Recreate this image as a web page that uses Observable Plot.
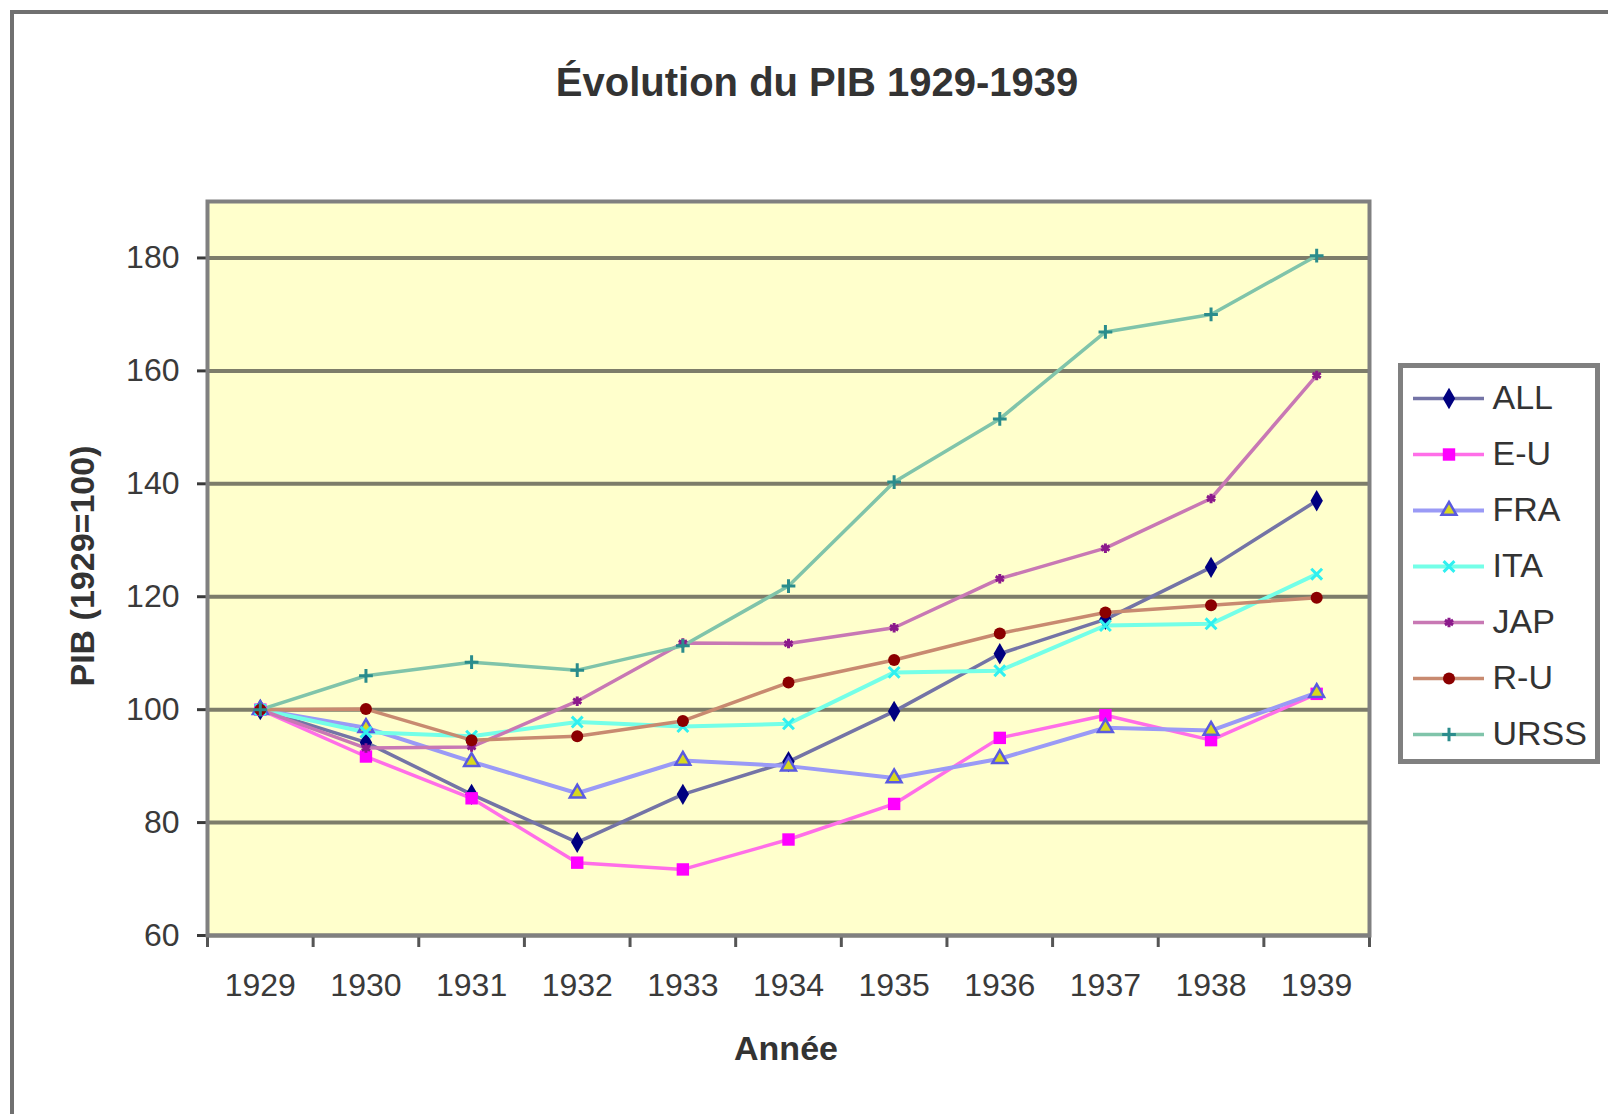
<!DOCTYPE html>
<html><head><meta charset="utf-8">
<script src="https://cdn.jsdelivr.net/npm/d3@7"></script>
<script src="https://cdn.jsdelivr.net/npm/@observablehq/plot@0.6"></script>
<style>
body{margin:0;background:#fff;}
#wrap{position:relative;width:1608px;height:1114px;overflow:hidden;background:#fff;font-family:"Liberation Sans",Arial,sans-serif;color:#333;}
.abs{position:absolute;}
.lbl{position:absolute;line-height:1;white-space:nowrap;transform:translate(-50%,-50%);}
</style></head><body><div id="wrap"></div>
<script>
// ---- data ----
const years = [1929, 1930, 1931, 1932, 1933, 1934, 1935, 1936, 1937, 1938, 1939];
const seriesNames = ["ALL", "E-U", "FRA", "ITA", "JAP", "R-U", "URSS"];
const ALL  = [100, 94.2, 85.0, 76.5, 85.0, 90.8, 99.7, 109.9, 116.0, 125.2, 137.0];
const EU   = [100, 91.7, 84.3, 72.9, 71.7, 77.0, 83.3, 95.0, 99.0, 94.6, 102.8];
const FRA  = [100, 96.8, 90.8, 85.2, 91.0, 90.0, 87.9, 91.3, 96.8, 96.3, 103.0];
const ITA  = [100, 96.0, 95.3, 97.8, 97.0, 97.5, 106.6, 106.9, 114.9, 115.2, 124.0];
const JAP  = [100, 93.2, 93.4, 101.5, 111.8, 111.7, 114.5, 123.2, 128.6, 137.4, 159.2];
const RU   = [100, 100.1, 94.6, 95.3, 98.0, 104.8, 108.8, 113.5, 117.2, 118.5, 119.8];
const URSS = [100, 106.0, 108.4, 107.0, 111.3, 121.9, 140.3, 151.5, 166.9, 170.0, 180.4];
const yTicks = [60, 80, 100, 120, 140, 160, 180];
const titleText = "Évolution du PIB 1929-1939";
const xTitle = "Année";
const yTitle = "PIB (1929=100)";

const valuesBySeries = {"ALL": ALL, "E-U": EU, "FRA": FRA, "ITA": ITA, "JAP": JAP, "R-U": RU, "URSS": URSS};
const styles = {
  "ALL":  {line: "#7474A6", lw: 3.5, symbol: "diamond",  r: 6.5, fill: "#000080", stroke: "none", sw: 0},
  "E-U":  {line: "#FF6EE8", lw: 3.5, symbol: "square",   r: 7, fill: "#FF00FF", stroke: "none", sw: 0},
  "FRA":  {line: "#9A9AF6", lw: 4,   symbol: "triangle", r: 5.5, fill: "#D8D820", stroke: "#5A5AE0", sw: 2.5},
  "ITA":  {line: "#74FFE8", lw: 4,   symbol: "times",    r: 5, fill: "none",    stroke: "#30F0F0", sw: 3},
  "JAP":  {line: "#C878B4", lw: 3.5, symbol: "asterisk", r: 4.5, fill: "none",    stroke: "#8B1A8B", sw: 3},
  "R-U":  {line: "#C88A70", lw: 3.5, symbol: "circle",   r: 6, fill: "#8B0000", stroke: "none", sw: 0},
  "URSS": {line: "#80C4AA", lw: 3.5, symbol: "plus",     r: 4.5, fill: "none",    stroke: "#2A8C8C", sw: 3}
};
const rows = seriesNames.flatMap(s => years.map((yr, i) => ({series: s, year: yr, value: valuesBySeries[s][i]})));
const bounds = [years[0] - 0.5, ...years.map(y => y + 0.5)];

const wrap = document.getElementById("wrap");
const font = "'Liberation Sans', Arial, sans-serif";

// outer chart border (top/left visible)
const outer = document.createElement("div");
outer.className = "abs";
Object.assign(outer.style, {left: "10px", top: "10px", width: "1700px", height: "1200px",
  borderTop: "4px solid #707070", borderLeft: "4px solid #707070"});
wrap.appendChild(outer);

const lineMarks = seriesNames.map(s => Plot.line(rows.filter(d => d.series === s),
  {x: "year", y: "value", stroke: styles[s].line, strokeWidth: styles[s].lw, curve: "linear"}));
const dotMarks = seriesNames.map(s => Plot.dot(rows.filter(d => d.series === s),
  {x: "year", y: "value", symbol: styles[s].symbol, r: styles[s].r, fill: styles[s].fill,
   stroke: styles[s].stroke, strokeWidth: styles[s].sw}));

const chart = Plot.plot({
  width: 1608, height: 1114,
  marginLeft: 207, marginRight: 239, marginTop: 201, marginBottom: 179,
  x: {type: "linear", domain: [1928.5, 1939.5]},
  y: {domain: [60, 190]},
  style: {background: "transparent", fontFamily: font, overflow: "visible"},
  marks: [
    Plot.frame({fill: "#FFFFCC"}),
    Plot.ruleY(yTicks, {stroke: "#7D7D6A", strokeWidth: 4}),
    Plot.axisY({ticks: yTicks, tickSize: 10, tickPadding: 18, fontSize: 32, label: null, color: "#3a3a3a", strokeWidth: 3}),
    Plot.axisX({ticks: years, tickSize: 0, tickPadding: 38, fontSize: 32, tickFormat: d => String(d), label: null, color: "#3a3a3a"}),
    Plot.axisX({ticks: bounds, tickSize: 12, tickFormat: () => "", label: null, color: "#555", strokeWidth: 3}),
    ...lineMarks,
    ...dotMarks,
    Plot.frame({stroke: "#808080", strokeWidth: 4})
  ]
});
chart.style.position = "absolute";
chart.style.left = "0px";
chart.style.top = "0px";
wrap.appendChild(chart);

// legend box
const lgBox = document.createElement("div");
lgBox.className = "abs";
Object.assign(lgBox.style, {left: "1398px", top: "363px", width: "202px", height: "401px",
  border: "5px solid #808080", boxSizing: "border-box", background: "#fff"});
wrap.appendChild(lgBox);

const legend = Plot.plot({
  width: 202, height: 401,
  marginLeft: 15, marginRight: 116, marginTop: 33, marginBottom: 28,
  x: {domain: [0, 1], axis: null},
  y: {type: "point", domain: seriesNames, axis: null, padding: 0},
  style: {background: "transparent", fontFamily: font, overflow: "visible"},
  marks: [
    ...seriesNames.map(s => Plot.ruleY([s], {y: d => d, x1: () => 0, x2: () => 1, stroke: styles[s].line, strokeWidth: styles[s].lw})),
    ...seriesNames.map(s => Plot.dot([s], {x: () => 0.5, y: d => d, symbol: styles[s].symbol, r: styles[s].r,
      fill: styles[s].fill, stroke: styles[s].stroke, strokeWidth: styles[s].sw})),
    Plot.text(seriesNames, {x: () => 1, y: d => d, text: d => d, textAnchor: "start", dx: 8, fontSize: 34, fill: "#333"})
  ]
});
legend.style.position = "absolute";
legend.style.left = "1398px";
legend.style.top = "363px";
wrap.appendChild(legend);

// titles
function addLabel(text, x, y, size, rotate) {
  const el = document.createElement("div");
  el.className = "lbl";
  el.textContent = text;
  Object.assign(el.style, {left: x + "px", top: y + "px", fontSize: size + "px", fontWeight: "bold", color: "#333"});
  if (rotate) el.style.transform = "translate(-50%,-50%) rotate(-90deg)";
  wrap.appendChild(el);
}
addLabel(titleText, 817, 82, 40, false);
addLabel(xTitle, 786, 1048, 34, false);
addLabel(yTitle, 82, 566, 34, true);
</script></body></html>
